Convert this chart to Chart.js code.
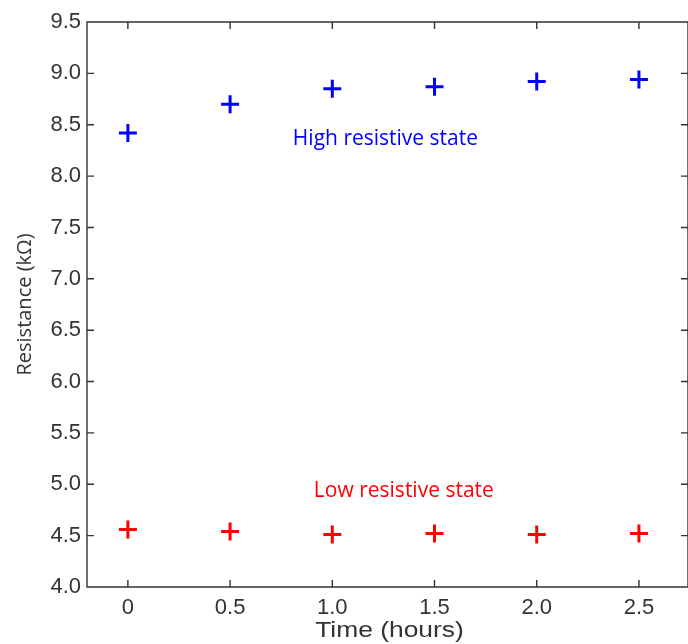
<!DOCTYPE html>
<html>
<head>
<meta charset="utf-8">
<script src="https://cdn.jsdelivr.net/npm/chart.js@4.4.0/dist/chart.umd.min.js"></script>
<style>
  html, body { margin: 0; padding: 0; background: #fff; overflow: hidden; }
  #wrap { width: 688px; height: 644px; }
  canvas { display: block; }
</style>
</head>
<body>
<div id="wrap"><canvas id="chart" width="688" height="644"></canvas></div>
<script>
// data
const timeHours = [0, 0.5, 1.0, 1.5, 2.0, 2.5];
const highState = [8.42, 8.70, 8.85, 8.87, 8.92, 8.94];
const lowState = [4.56, 4.54, 4.51, 4.52, 4.51, 4.52];
const xTicks = [0, 0.5, 1.0, 1.5, 2.0, 2.5];
const yTicks = [4.0, 4.5, 5.0, 5.5, 6.0, 6.5, 7.0, 7.5, 8.0, 8.5, 9.0, 9.5];

// text labels inside the plot (data coordinates)
const notes = [
    { text: 'High resistive state', x: 1.26, y: 8.36, color: '#0000ff' },
    { text: 'Low resistive state', x: 1.35, y: 4.93, color: '#ff0000' }
];
const xTitle = 'Time (hours)';

const axisColor = '#333333';
const tickFont = { family: 'Liberation Sans, Arial, sans-serif', size: 22 };

// frame + inward tick marks, like the original figure
const framePlugin = {
    id: 'frame',
    afterDraw(chart) {
        const ctx = chart.ctx;
        const area = chart.chartArea;
        const xs = chart.scales.x;
        const ys = chart.scales.y;
        const len = 7;
        ctx.save();
        ctx.strokeStyle = axisColor;
        ctx.lineWidth = 1.4;
        ctx.beginPath();
        ctx.rect(area.left, area.top, area.right - area.left, area.bottom - area.top);
        xTicks.forEach(v => {
            const px = xs.getPixelForValue(v);
            ctx.moveTo(px, area.bottom);
            ctx.lineTo(px, area.bottom - len);
            ctx.moveTo(px, area.top);
            ctx.lineTo(px, area.top + len);
        });
        yTicks.forEach(v => {
            const py = ys.getPixelForValue(v);
            ctx.moveTo(area.left, py);
            ctx.lineTo(area.left + len, py);
            ctx.moveTo(area.right, py);
            ctx.lineTo(area.right - len, py);
        });
        ctx.stroke();

        // x title is drawn wide in the original, so stretch it a bit
        const cx = (area.left + area.right) / 2 + 2;
        ctx.translate(cx, 637);
        ctx.scale(1.2, 1);
        ctx.font = '22px "Liberation Sans", Arial, sans-serif';
        ctx.fillStyle = axisColor;
        ctx.textAlign = 'center';
        ctx.textBaseline = 'alphabetic';
        ctx.fillText(xTitle, 0, 0);
        ctx.restore();
    }
};

const notesPlugin = {
    id: 'notes',
    afterDatasetsDraw(chart) {
        const ctx = chart.ctx;
        ctx.save();
        ctx.font = '21px "Open Sans", sans-serif';
        ctx.textAlign = 'center';
        ctx.textBaseline = 'middle';
        notes.forEach(n => {
            ctx.fillStyle = n.color;
            ctx.fillText(n.text, chart.scales.x.getPixelForValue(n.x), chart.scales.y.getPixelForValue(n.y));
        });
        ctx.restore();
    }
};

new Chart(document.getElementById('chart'), {
    type: 'scatter',
    data: {
        datasets: [
            {
                label: 'High resistive state',
                data: timeHours.map((t, i) => ({ x: t, y: highState[i] })),
                pointStyle: 'cross',
                pointRadius: 9,
                pointBorderWidth: 3,
                borderColor: '#0000ff',
                backgroundColor: '#0000ff'
            },
            {
                label: 'Low resistive state',
                data: timeHours.map((t, i) => ({ x: t, y: lowState[i] })),
                pointStyle: 'cross',
                pointRadius: 9,
                pointBorderWidth: 3,
                borderColor: '#ff0000',
                backgroundColor: '#ff0000'
            }
        ]
    },
    options: {
        responsive: false,
        animation: false,
        // autoPadding would leave room for the point radius on the right
        layout: { autoPadding: false, padding: { top: 22, right: 0, left: 0, bottom: 0 } },
        plugins: {
            legend: { display: false },
            tooltip: { enabled: false }
        },
        scales: {
            x: {
                type: 'linear',
                min: -0.2,
                max: 2.74,
                afterFit(scale) { scale.height = 57; },
                afterBuildTicks(scale) { scale.ticks = xTicks.map(v => ({ value: v })); },
                grid: { display: false, drawTicks: false },
                border: { display: false },
                ticks: {
                    color: axisColor,
                    font: tickFont,
                    padding: 8,
                    maxRotation: 0,
                    callback: v => (v === 0 ? '0' : v.toFixed(1))
                },
                title: { display: false }
            },
            y: {
                type: 'linear',
                min: 4.0,
                max: 9.5,
                afterFit(scale) { scale.width = 87; },
                afterBuildTicks(scale) { scale.ticks = yTicks.map(v => ({ value: v })); },
                grid: { display: false, drawTicks: false },
                border: { display: false },
                ticks: {
                    color: axisColor,
                    font: tickFont,
                    padding: 6,
                    callback: v => v.toFixed(1)
                },
                title: {
                    display: true,
                    text: 'Resistance (kΩ)',
                    color: axisColor,
                    font: { family: 'Open Sans, sans-serif', size: 20 },
                    padding: { top: 13, bottom: 0 }
                }
            }
        }
    },
    plugins: [framePlugin, notesPlugin]
});
</script>
</body>
</html>
